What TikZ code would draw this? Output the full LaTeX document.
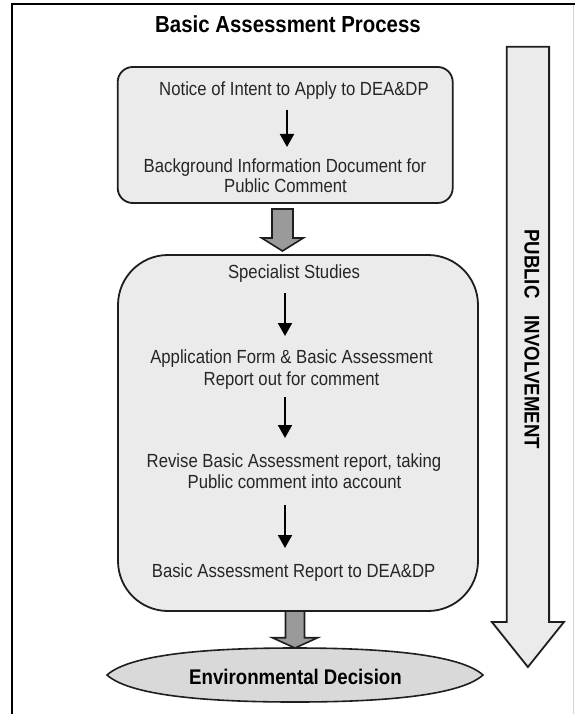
\documentclass[tikz,border=0pt]{standalone}
\usepackage{fontspec}
\setmainfont{Liberation Sans}[FakeStretch=0.88]
\usetikzlibrary{arrows.meta,calc}
\definecolor{boxfill}{HTML}{EBEBEB}
\definecolor{decfill}{HTML}{D9D9D9}
\definecolor{arrfill}{HTML}{9A9A9A}
\definecolor{edge}{HTML}{1E1E1E}
\definecolor{txtc}{HTML}{262626}
\newcommand\blockarrow[6]{% style, start, end, shaft half, head half, head length
  \draw[#1] ($(#2)+(-#4,0)$) -- ($(#3)+(-#4,-#6)$) -- ($(#3)+(-#5,-#6)$) -- (#3)
    -- ($(#3)+(#5,-#6)$) -- ($(#3)+(#4,-#6)$) -- ($(#2)+(#4,0)$) -- cycle;}
\begin{document}
\begin{tikzpicture}[x=1pt,y=-1pt,
  boxstyle/.style={draw=edge, line width=1.8pt, fill=boxfill, inner sep=0pt},
  txt/.style={anchor=base, inner sep=0pt, text=txtc, font=\fontsize{19}{22}\selectfont},
  thinarrow/.style={draw=black, line width=2pt, -{Triangle[width=14pt,length=13pt]}},
  greyarrow/.style={draw=edge, line width=1.6pt, fill=arrfill, line join=miter},
  bigarrow/.style={draw=edge, line width=1.8pt, fill=boxfill, line join=miter}]
\useasboundingbox (0,0) rectangle (575,714);
\fill[white] (0,0) rectangle (575,714);
% frame
\draw[gray!35, line width=1pt] (573,4) -- (573,714);
\draw[black, line width=2pt] (12,714) -- (12,4) -- (575,4);
% title
\node[anchor=base, inner sep=0pt, font=\fontsize{23.2}{27}\selectfont\bfseries] (title) at (288,33) {Basic Assessment Process};
% big arrow
\coordinate (bigs) at (527.9,46.7);
\coordinate (bige) at (527.9,667);
\blockarrow{bigarrow}{bigs}{bige}{21.2}{36}{45}
\node[rotate=-90, inner sep=0pt, font=\fontsize{21.2}{25}\selectfont\bfseries] (pub) at (532,339) {PUBLIC\hspace{17pt}INVOLVEMENT};
% boxes
\node[boxstyle, minimum width=335pt, minimum height=136pt, rounded corners=15pt] (b1) at (285.2,135) {};
\node[boxstyle, minimum width=360pt, minimum height=356pt, rounded corners=50pt] (b2) at (298,433) {};
% box 1 text
\node[txt] (notice) at (294,96) {Notice of Intent to Apply to DEA\&DP};
\node[txt] (bg1) at (285,172) {Background Information Document for};
\node[txt] (bg2) at (285.5,193) {Public Comment};
% box 2 text
\node[txt] (spec) at (294,278) {Specialist Studies};
\node[txt] (app1) at (291.5,363) {Application Form \& Basic Assessment};
\node[txt] (app2) at (291.5,385) {Report out for comment};
\node[txt] (rev1) at (294,467) {Revise Basic Assessment report, taking};
\node[txt] (rev2) at (294.5,488) {Public comment into account};
\node[txt] (bar) at (293.6,577) {Basic Assessment Report to DEA\&DP};
% thin arrows
\coordinate (a1s) at (287,110); \coordinate (a1e) at (287,147);
\coordinate (a2s) at (285,293); \coordinate (a2e) at (285,336);
\coordinate (a3s) at (285,397); \coordinate (a3e) at (285,438);
\coordinate (a4s) at (285,505); \coordinate (a4e) at (285,548);
\draw[thinarrow] (a1s) -- (a1e);
\draw[thinarrow] (a2s) -- (a2e);
\draw[thinarrow] (a3s) -- (a3e);
\draw[thinarrow] (a4s) -- (a4e);
% decision lens
\draw[draw=edge, line width=1.6pt, fill=decfill]
  (107,675) .. controls (127,657) and (190,648) .. (295,648)
  .. controls (400,648) and (463,657) .. (483,675)
  .. controls (463,693) and (400,702) .. (295,702)
  .. controls (190,702) and (127,693) .. (107,675) -- cycle;
\node[anchor=base, inner sep=0pt, text=black, font=\fontsize{21.2}{25}\selectfont\bfseries] (dec) at (295.5,684) {Environmental Decision};
% grey block arrows
\coordinate (g1s) at (282.5,209); \coordinate (g1e) at (282.5,251);
\blockarrow{greyarrow}{g1s}{g1e}{10.5}{20.8}{13}
\coordinate (g2s) at (295,611); \coordinate (g2e) at (295,648);
\blockarrow{greyarrow}{g2s}{g2e}{9.5}{22.7}{10.3}
\end{tikzpicture}
\end{document}
